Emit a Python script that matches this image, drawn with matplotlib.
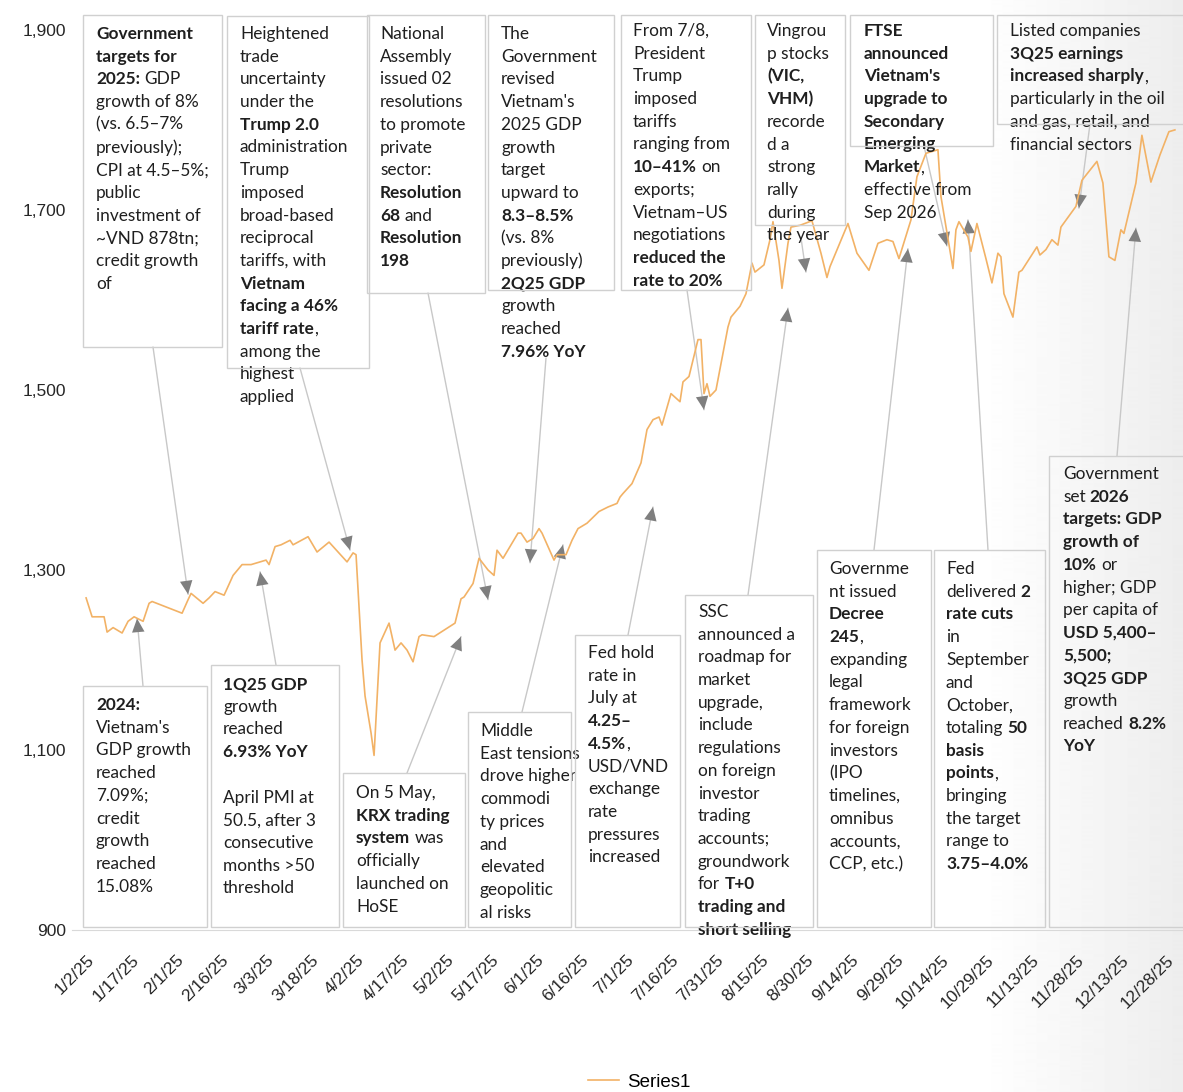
import matplotlib
matplotlib.use('Agg')
import matplotlib.pyplot as plt
import matplotlib.dates as mdates
from matplotlib.patches import Rectangle
import numpy as np
import pandas as pd

W, H = 1183, 1092

# VN-Index 2025
dates = ['2025-01-02', '2025-01-04', '2025-01-08', '2025-01-09', '2025-01-11', '2025-01-14', '2025-01-16',
         '2025-01-18', '2025-01-21', '2025-01-23', '2025-01-24', '2025-02-03', '2025-02-05', '2025-02-06',
         '2025-02-10', '2025-02-12', '2025-02-14', '2025-02-17', '2025-02-20', '2025-02-23', '2025-02-26',
         '2025-03-03', '2025-03-04', '2025-03-06', '2025-03-08', '2025-03-11', '2025-03-12', '2025-03-17',
         '2025-03-20', '2025-03-24', '2025-03-27', '2025-03-30', '2025-04-01', '2025-04-02', '2025-04-04',
         '2025-04-05', '2025-04-07', '2025-04-08', '2025-04-09', '2025-04-10', '2025-04-13', '2025-04-15',
         '2025-04-17', '2025-04-19', '2025-04-21', '2025-04-23', '2025-04-24', '2025-04-28', '2025-05-05',
         '2025-05-07', '2025-05-08', '2025-05-11', '2025-05-13', '2025-05-16', '2025-05-18', '2025-05-19',
         '2025-05-21', '2025-05-26', '2025-05-27', '2025-05-29', '2025-05-31', '2025-06-02', '2025-06-03',
         '2025-06-07', '2025-06-08', '2025-06-11', '2025-06-13', '2025-06-15', '2025-06-18', '2025-06-22',
         '2025-06-25', '2025-06-28', '2025-06-29', '2025-06-30', '2025-07-03', '2025-07-06', '2025-07-08',
         '2025-07-10', '2025-07-12', '2025-07-13', '2025-07-16', '2025-07-19', '2025-07-20', '2025-07-22',
         '2025-07-25', '2025-07-26', '2025-07-27', '2025-07-28', '2025-07-29', '2025-07-31', '2025-08-04',
         '2025-08-05', '2025-08-08', '2025-08-10', '2025-08-12', '2025-08-13', '2025-08-16', '2025-08-18',
         '2025-08-19', '2025-08-21', '2025-08-22', '2025-08-24', '2025-08-25', '2025-08-28', '2025-09-01',
         '2025-09-04', '2025-09-06', '2025-09-07', '2025-09-13', '2025-09-16', '2025-09-20', '2025-09-23',
         '2025-09-26', '2025-09-28', '2025-09-30', '2025-10-04', '2025-10-06', '2025-10-09', '2025-10-13',
         '2025-10-14', '2025-10-18', '2025-10-19', '2025-10-20', '2025-10-23', '2025-10-24', '2025-10-26',
         '2025-10-29', '2025-10-31', '2025-11-02', '2025-11-03', '2025-11-04', '2025-11-07', '2025-11-09',
         '2025-11-10', '2025-11-15', '2025-11-16', '2025-11-18', '2025-11-20', '2025-11-22', '2025-11-23',
         '2025-11-28', '2025-11-30', '2025-12-05', '2025-12-07', '2025-12-09', '2025-12-11', '2025-12-13',
         '2025-12-14', '2025-12-18', '2025-12-20', '2025-12-23', '2025-12-26', '2025-12-29', '2025-12-31']
values = [1269, 1248, 1248, 1231, 1236, 1230, 1243,
          1248, 1243, 1263, 1265, 1252, 1267, 1274,
          1263, 1269, 1276, 1272, 1294, 1306, 1306,
          1311, 1306, 1326, 1328, 1333, 1328, 1337,
          1320, 1331, 1320, 1309, 1319, 1317, 1200,
          1160, 1119, 1094, 1156, 1219, 1241, 1211,
          1219, 1211, 1198, 1226, 1228, 1226, 1241,
          1268, 1270, 1285, 1313, 1300, 1294, 1322,
          1313, 1341, 1341, 1331, 1335, 1346, 1341,
          1311, 1317, 1317, 1333, 1346, 1352, 1365,
          1370, 1374, 1381, 1385, 1396, 1419, 1456,
          1467, 1470, 1461, 1496, 1487, 1509, 1515,
          1556, 1556, 1496, 1507, 1493, 1500, 1570,
          1581, 1593, 1607, 1641, 1631, 1639, 1667,
          1687, 1644, 1613, 1663, 1681, 1683, 1688,
          1652, 1625, 1637, 1685, 1652, 1633, 1663,
          1667, 1665, 1646, 1689, 1737, 1763, 1767,
          1715, 1635, 1678, 1687, 1670, 1654, 1685,
          1646, 1619, 1652, 1648, 1607, 1581, 1631,
          1633, 1659, 1650, 1656, 1667, 1661, 1681,
          1704, 1733, 1754, 1730, 1648, 1644, 1678,
          1674, 1730, 1783, 1731, 1761, 1787, 1789]

y_ticks = [900, 1100, 1300, 1500, 1700, 1900]

notes = [
    ["**Government**", "**targets for**", "**2025:** GDP", "growth of 8%", "(vs. 6.5–7%", "previously);",
     "CPI at 4.5–5%;", "public", "investment of", "~VND 878tn;", "credit growth", "of"],
    ["Heightened", "trade", "uncertainty", "under the", "**Trump 2.0**", "administration", "Trump", "imposed",
     "broad-based", "reciprocal", "tariffs, with", "**Vietnam**", "**facing a 46%**", "**tariff rate**,",
     "among the", "highest", "applied"],
    ["National", "Assembly", "issued 02", "resolutions", "to promote", "private", "sector:", "**Resolution**",
     "**68** and", "**Resolution**", "**198**"],
    ["The", "Government", "revised", "Vietnam's", "2025 GDP", "growth", "target", "upward to", "**8.3–8.5%**",
     "(vs. 8%", "previously)", "**2Q25 GDP**", "growth", "reached", "**7.96% YoY**"],
    ["From 7/8,", "President", "Trump", "imposed", "tariffs", "ranging from", "**10–41%** on", "exports;",
     "Vietnam–US", "negotiations", "**reduced the**", "**rate to 20%**"],
    ["Vingrou", "p stocks", "**(VIC,**", "**VHM)**", "recorde", "d a", "strong", "rally", "during", "the year"],
    ["**FTSE**", "**announced**", "**Vietnam's**", "**upgrade to**", "**Secondary**", "**Emerging**",
     "**Market**,", "effective from", "Sep 2026"],
    ["Listed companies", "**3Q25 earnings**", "**increased sharply**,", "particularly in the oil",
     "and gas, retail, and", "financial sectors"],
    ["**2024:**", "Vietnam's", "GDP growth", "reached", "7.09%;", "credit", "growth", "reached", "15.08%"],
    ["**1Q25 GDP**", "growth", "reached", "**6.93% YoY**", "", "April PMI at", "50.5, after 3", "consecutive",
     "months >50", "threshold"],
    ["On 5 May,", "**KRX trading**", "**system** was", "officially", "launched on", "HoSE"],
    ["Middle", "East tensions", "drove higher", "commodi", "ty prices", "and", "elevated", "geopolitic",
     "al risks"],
    ["Fed hold", "rate in", "July at", "**4.25–**", "**4.5%**,", "USD/VND", "exchange", "rate", "pressures",
     "increased"],
    ["SSC", "announced a", "roadmap for", "market", "upgrade,", "include", "regulations", "on foreign",
     "investor", "trading", "accounts;", "groundwork", "for **T+0**", "**trading and**", "**short selling**"],
    ["Governme", "nt issued", "**Decree**", "**245**,", "expanding", "legal", "framework", "for foreign",
     "investors", "(IPO", "timelines,", "omnibus", "accounts,", "CCP, etc.)"],
    ["Fed", "delivered **2**", "**rate cuts**", "in", "September", "and", "October,", "totaling **50**",
     "**basis**", "**points**,", "bringing", "the target", "range to", "**3.75–4.0%**"],
    ["Government", "set **2026**", "**targets: GDP**", "**growth of**", "**10%** or", "higher; GDP",
     "per capita of", "**USD 5,400–**", "**5,500;**", "**3Q25 GDP**", "growth", "reached **8.2%**", "**YoY**"],
]

# where each note's arrow points (date, index level)
note_dates = ['2025-02-05', '2025-03-31', '2025-05-16', '2025-05-30', '2025-07-27', '2025-08-30',
              '2025-10-16', '2025-11-29', '2025-01-19', '2025-03-01', '2025-05-07', '2025-06-10',
              '2025-07-10', '2025-08-24', '2025-10-03', '2025-10-23', '2025-12-18']
note_levels = [1273, 1322, 1267, 1308, 1478, 1631, 1660, 1702, 1246, 1298, 1226, 1328,
               1370, 1591, 1657, 1689, 1680]

# layout in pixels: box (x0, y0, x1, y1), text origin (x, y of first line), arrow start
boxes = [(83, 15, 222, 347), (227, 16, 369, 368), (367, 15, 485, 293), (488, 15, 614, 290),
         (621, 15, 751, 290), (755, 15, 845, 225), (850, 15, 993, 146), (997, 15, 1190, 124),
         (83, 686, 207, 927), (211, 665, 339, 927), (343, 773, 465, 927), (468, 712, 571, 927),
         (575, 635, 680, 927), (685, 595, 813, 927), (817, 550, 931, 927), (934, 550, 1045, 927),
         (1049, 456, 1190, 927)]
text_at = [(96, 34), (240, 34), (380, 34), (501, 34), (633, 31), (767, 31), (864, 31), (1010, 31),
           (96, 705), (223, 684), (356, 793), (480, 731), (588, 653), (698, 612), (829, 569), (946, 569),
           (1063, 474)]
arrow_from = [(153, 347), (300, 368), (428, 293), (546, 358), (687, 290), (801, 238), (924, 146),
              (1090, 124), (143, 686), (276, 665), (407, 773), (522, 712), (628, 635), (748, 595),
              (874, 550), (988, 550), (1117, 456)]

NOTE_FONT = 'Lato'
NOTE_SIZE = 12.4
LINE_STEP = 22.7
SPACE = 3.0
TXT = '#1f1f1f'


def fx(x):
    return x / W


def fy(y):
    return 1 - y / H


fig = plt.figure(figsize=(W / 100, H / 100), dpi=100)

# faint grey shading towards the right edge, as in the source image
bg = fig.add_axes([0, 0, 1, 1], zorder=-1)
ramp = np.clip((np.arange(W) - 980) / (W - 980), 0, 1)
shade = 1 - 0.07 * ramp
bg.imshow(np.tile(shade, (2, 1)), cmap='gray', vmin=0, vmax=1, aspect='auto', extent=(0, 1, 0, 1))
bg.axis('off')

ax = fig.add_axes([fx(72), fy(930), 1 - fx(72), (930 - 30) / H])

x = pd.to_datetime(dates)
line, = ax.plot(x, values, color='#f2b266', lw=1.2, zorder=4, label='Series1')

start = pd.Timestamp('2025-01-02')
ax.set_xlim(start - pd.Timedelta(days=4.7), start + pd.Timedelta(days=365.7))
ax.set_ylim(900, 1900)
ticks = pd.date_range(start, periods=25, freq='15D')
ax.set_xticks(ticks)
ax.set_xticklabels([f'{t.month}/{t.day}/25' for t in ticks], rotation=45, ha='right', va='top',
                   rotation_mode='anchor', fontsize=12.5, family='Liberation Sans', color='#262626')
ax.set_yticks(y_ticks)
ax.set_yticklabels([f'{v:,}' for v in y_ticks], fontsize=12.5, family='Liberation Sans', color='#262626')
ax.tick_params(axis='x', length=0, pad=16)
ax.tick_params(axis='y', length=0, pad=4)
for s in ['top', 'right', 'left']:
    ax.spines[s].set_visible(False)
ax.spines['bottom'].set_color('#d9d9d9')
ax.patch.set_alpha(0)


def write_line(x0, y0, text):
    prev = None
    space = False
    for i, part in enumerate(text.split('**')):
        if part == '':
            continue
        seg = part.strip()
        if seg == '':
            space = True
            continue
        kw = dict(fontsize=NOTE_SIZE, family=NOTE_FONT, color=TXT, zorder=5,
                  fontweight='bold' if i % 2 else 'normal')
        if prev is None:
            prev = ax.text(fx(x0), fy(y0), seg, transform=fig.transFigure, ha='left', va='center', **kw)
        else:
            gap = SPACE if (space or part[0] == ' ') else 0
            prev = ax.annotate(seg, xy=(1, 0), xycoords=prev, xytext=(gap, 0), textcoords='offset points',
                               ha='left', va='bottom', annotation_clip=False, **kw)
        space = part[-1] == ' '


for k, lines in enumerate(notes):
    x0, y0, x1, y1 = boxes[k]
    fig.add_artist(Rectangle((fx(x0), fy(y1)), (x1 - x0) / W, (y1 - y0) / H, transform=fig.transFigure,
                             facecolor='none', edgecolor='#d0d0d0', lw=1, zorder=1))
    tx, ty = text_at[k]
    for j, ln in enumerate(lines):
        write_line(tx, ty + j * LINE_STEP, ln)
    tip = (mdates.date2num(pd.Timestamp(note_dates[k])), note_levels[k])
    src = (fx(arrow_from[k][0]), fy(arrow_from[k][1]))
    ax.annotate('', xy=tip, xytext=src, textcoords='figure fraction', annotation_clip=False, zorder=2,
                arrowprops=dict(arrowstyle='-', color='#c8c8c8', lw=1, shrinkA=0, shrinkB=0))
    ax.annotate('', xy=tip, xytext=src, textcoords='figure fraction', annotation_clip=False, zorder=2,
                arrowprops=dict(arrowstyle='-|>,head_length=0.65,head_width=0.3', mutation_scale=15,
                                color='#7f7f7f', lw=0, shrinkA=0, shrinkB=0))

ax.legend(handles=[line], loc='center', bbox_to_anchor=(fx(639), fy(1082)), bbox_transform=fig.transFigure,
          frameon=False, handlelength=1.7, handletextpad=0.4,
          prop={'family': 'Liberation Sans', 'size': 13.5})

fig.savefig('out.png', dpi=100)
